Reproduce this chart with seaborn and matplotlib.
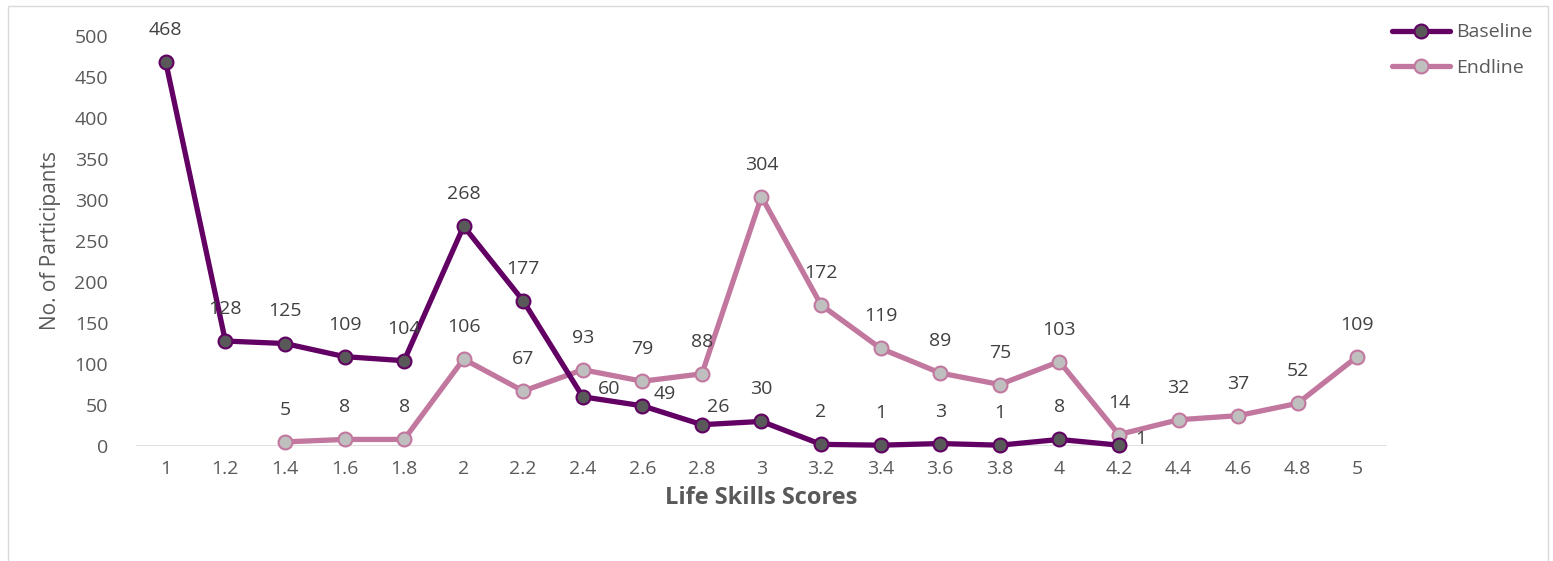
import pandas as pd
import matplotlib.pyplot as plt
import matplotlib.patches as patches
import seaborn as sns

# Life skills score categories
scores = ["1", "1.2", "1.4", "1.6", "1.8", "2", "2.2", "2.4", "2.6", "2.8", "3",
          "3.2", "3.4", "3.6", "3.8", "4", "4.2", "4.4", "4.6", "4.8", "5"]
# Baseline: scores 1 .. 4.2
baseline = [468, 128, 125, 109, 104, 268, 177, 60, 49, 26, 30, 2, 1, 3, 1, 8, 1]
# Endline: scores 1.4 .. 5
endline = [5, 8, 8, 106, 67, 93, 79, 88, 304, 172, 119, 89, 75, 103, 14, 32, 37, 52, 109]

sns.set_theme(style="white")
plt.rcParams["font.family"] = ["Open Sans", "DejaVu Sans"]

x_all = [float(s) for s in scores]
df_base = pd.DataFrame({"score": x_all[:len(baseline)], "n": baseline})
df_end = pd.DataFrame({"score": x_all[len(scores) - len(endline):], "n": endline})

fig = plt.figure(figsize=(15.53, 5.61), dpi=100)
ax = fig.add_axes([136 / 1553, 1 - 446 / 561, (1387 - 136) / 1553, (446 - 36) / 561])

base_col = "#620064"
end_col = "#C2779F"

sns.lineplot(data=df_base, x="score", y="n", ax=ax, color=base_col, linewidth=3.8,
             marker="o", markersize=10, markerfacecolor="#595959",
             markeredgecolor=base_col, markeredgewidth=1.5, clip_on=False,
             label="Baseline", zorder=3)
sns.lineplot(data=df_end, x="score", y="n", ax=ax, color=end_col, linewidth=3.8,
             marker="o", markersize=10, markerfacecolor="#BFBFBF",
             markeredgecolor=end_col, markeredgewidth=1.5, clip_on=False,
             label="Endline", zorder=2)

# data labels (offset in pixels)
base_off = {7: (26, 8), 8: (22, 12), 9: (16, 18), 16: (22, 6)}
for i, (x, y) in enumerate(zip(df_base["score"], df_base["n"])):
    dx, dy = base_off.get(i, (0, 32))
    ax.annotate(str(y), (x, y), xytext=(dx, dy), textcoords="offset pixels",
                ha="center", va="center", fontsize=14, color="#404040")
for x, y in zip(df_end["score"], df_end["n"]):
    ax.annotate(str(y), (x, y), xytext=(0, 32), textcoords="offset pixels",
                ha="center", va="center", fontsize=14, color="#404040")

ax.set_xlim(0.9, 5.1)
ax.set_ylim(0, 500)
ax.set_xticks(x_all)
ax.set_xticklabels(scores)
ax.set_yticks(range(0, 501, 50))
ax.tick_params(axis="both", labelsize=14, labelcolor="#595959", length=0)
ax.tick_params(axis="x", pad=10)
ax.tick_params(axis="y", pad=20)
for s in ax.spines.values():
    s.set_visible(False)
ax.axhline(0, color="#D9D9D9", linewidth=1.2, zorder=1)

ax.set_xlabel("Life Skills Scores", fontsize=17, fontweight="bold", color="#595959", labelpad=6)
ax.set_ylabel("No. of Participants", fontsize=15, color="#595959", labelpad=10)

ax.get_legend().remove()
handles, labels = ax.get_legend_handles_labels()
fig.legend(handles, labels, loc="upper right", bbox_to_anchor=(1550 / 1553, 1 - 6 / 561),
           frameon=False, fontsize=14, handlelength=3.0, handletextpad=0.3,
           labelspacing=0.9, labelcolor="#595959")

# light outer frame
fig.patches.append(patches.Rectangle((8 / 1553, -0.05), 1540 / 1553, 1.05 - 6 / 561,
                                     transform=fig.transFigure, fill=False,
                                     edgecolor="#D9D9D9", linewidth=1))

fig.savefig("out.png", dpi=100)
